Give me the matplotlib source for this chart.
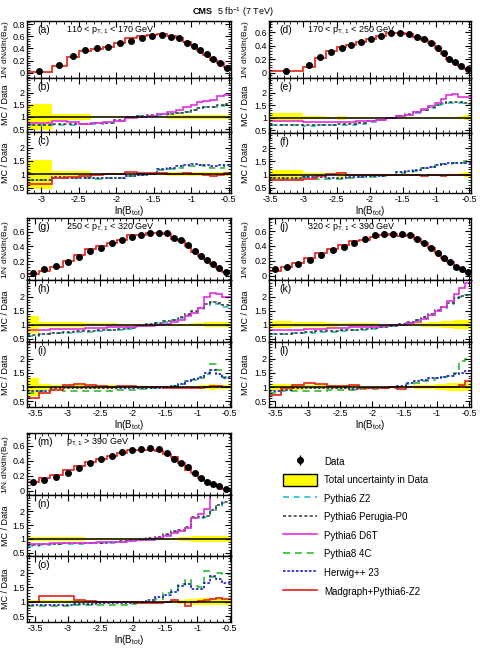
import numpy as np
import matplotlib
matplotlib.use("Agg")
import matplotlib.pyplot as plt
from matplotlib.ticker import MultipleLocator, FixedLocator, FuncFormatter
from matplotlib.lines import Line2D
from matplotlib.patches import Patch

plt.rcParams['font.family'] = ['Liberation Sans', 'DejaVu Sans']
plt.rcParams['axes.unicode_minus'] = False
plt.rcParams['mathtext.fontset'] = 'custom'
plt.rcParams['mathtext.rm'] = 'Liberation Sans'
plt.rcParams['mathtext.it'] = 'Liberation Sans:italic'

W, H = 481, 649

# ---------------- values ----------------
# 110 < pT,1 < 170 GeV
edges_a = [-3.19, -2.86, -2.66, -2.49, -2.34, -2.18, -2.03, -1.88, -1.73, -1.59, -1.46,
           -1.33, -1.21, -1.11, -1.01, -0.93, -0.84, -0.75, -0.66, -0.57, -0.47]
data_a = [0.02, 0.13, 0.28, 0.375, 0.40, 0.43, 0.485, 0.52, 0.58, 0.605, 0.615,
          0.59, 0.57, 0.485, 0.44, 0.375, 0.30, 0.225, 0.165, 0.08]
mg_a = [0.013, 0.11, 0.25, 0.35, 0.39, 0.43, 0.49, 0.57, 0.60, 0.63, 0.635,
        0.60, 0.575, 0.50, 0.45, 0.38, 0.29, 0.21, 0.16, 0.085]
band_a = [0.55, 0.12, 0.12, 0.12, 0.02, 0.02, 0.02, 0.02, 0.02, 0.02, 0.02,
          0.07, 0.07, 0.07, 0.07, 0.07, 0.07, 0.07, 0.07, 0.07]
z2_a = [0.65, 0.68, 0.68, 0.70, 0.72, 0.75, 0.85, 1.0, 1.02, 1.05, 1.08,
        1.12, 1.15, 1.2, 1.3, 1.35, 1.4, 1.4, 1.45, 1.5]
p0_a = [0.68, 0.70, 0.70, 0.72, 0.73, 0.77, 0.88, 1.0, 1.03, 1.06, 1.1,
        1.13, 1.17, 1.22, 1.3, 1.38, 1.42, 1.4, 1.48, 1.52]
d6t_a = [0.75, 0.82, 0.78, 0.72, 0.75, 0.78, 0.85, 0.95, 1.0, 1.05, 1.1,
         1.2, 1.3, 1.4, 1.5, 1.6, 1.65, 1.7, 1.85, 1.9]
p8_a = [0.78, 0.85, 0.85, 0.85, 0.82, 0.85, 0.85, 0.95, 0.97, 1.0, 1.15,
        1.2, 1.25, 1.3, 1.3, 1.35, 1.3, 1.25, 1.25, 1.3]
hw_a = [0.80, 0.88, 0.87, 0.85, 0.85, 0.85, 0.85, 0.95, 0.97, 1.0, 1.2,
        1.25, 1.3, 1.35, 1.4, 1.35, 1.35, 1.3, 1.35, 1.35]

# 170 < pT,1 < 250 GeV
edges_d = [-3.52, -3.01, -2.83, -2.66, -2.50, -2.35, -2.20, -2.05, -1.90, -1.75, -1.60,
           -1.47, -1.35, -1.23, -1.12, -1.02, -0.93, -0.84, -0.75, -0.66, -0.57, -0.47]
data_d = [0.025, 0.11, 0.23, 0.31, 0.36, 0.41, 0.46, 0.50, 0.545, 0.585, 0.595,
          0.575, 0.535, 0.505, 0.445, 0.37, 0.29, 0.20, 0.155, 0.105, 0.055]
mg_d = [0.02, 0.09, 0.22, 0.32, 0.38, 0.41, 0.46, 0.50, 0.545, 0.585, 0.595,
        0.575, 0.535, 0.48, 0.445, 0.36, 0.275, 0.20, 0.155, 0.105, 0.055]
band_d = [0.19, 0.05, 0.05, 0.03, 0.08, 0.03, 0.03, 0.03, 0.03, 0.03, 0.03,
          0.03, 0.03, 0.03, 0.03, 0.03, 0.03, 0.03, 0.04, 0.06, 0.1]
z2_d = [0.70, 0.68, 0.70, 0.70, 0.70, 0.72, 0.75, 0.82, 0.9, 1.0, 1.05,
        1.12, 1.2, 1.3, 1.4, 1.5, 1.55, 1.6, 1.6, 1.6, 1.55]
p0_d = [0.72, 0.70, 0.72, 0.72, 0.73, 0.75, 0.78, 0.85, 0.92, 1.0, 1.07,
        1.15, 1.22, 1.3, 1.42, 1.52, 1.58, 1.62, 1.65, 1.65, 1.58]
d6t_d = [0.85, 0.82, 0.82, 0.82, 0.82, 0.83, 0.85, 0.88, 0.92, 0.97, 1.05,
         1.12, 1.22, 1.35, 1.45, 1.6, 1.75, 1.9, 1.95, 1.85, 1.85]
p8_d = [0.85, 0.90, 0.85, 0.82, 0.85, 0.88, 0.9, 0.92, 0.95, 1.0, 1.05,
        1.1, 1.15, 1.25, 1.3, 1.35, 1.4, 1.4, 1.45, 1.45, 1.5]
hw_d = [0.88, 0.92, 0.90, 0.88, 0.88, 0.9, 0.92, 0.93, 0.95, 1.0, 1.08,
        1.12, 1.18, 1.25, 1.3, 1.35, 1.4, 1.45, 1.45, 1.45, 1.45]

# 250 < pT,1 < 320 GeV
edges_g = [-3.63, -3.45, -3.27, -3.08, -2.91, -2.74, -2.57, -2.40, -2.24, -2.09, -1.94, -1.79,
           -1.66, -1.53, -1.41, -1.30, -1.19, -1.09, -0.99, -0.89, -0.80, -0.71, -0.62, -0.48]
data_g = [0.03, 0.085, 0.13, 0.18, 0.26, 0.335, 0.385, 0.45, 0.485, 0.53, 0.56, 0.59,
          0.58, 0.58, 0.52, 0.485, 0.42, 0.335, 0.27, 0.215, 0.155, 0.10, 0.055]
mg_g = [0.018, 0.066, 0.117, 0.194, 0.286, 0.362, 0.404, 0.45, 0.495, 0.556, 0.56, 0.59,
        0.58, 0.568, 0.504, 0.47, 0.407, 0.325, 0.265, 0.215, 0.163, 0.105, 0.055]
band_g = [0.3, 0.1, 0.08, 0.08, 0.08, 0.06, 0.06, 0.06, 0.04, 0.04, 0.04, 0.03,
          0.03, 0.03, 0.03, 0.03, 0.04, 0.05, 0.06, 0.08, 0.1, 0.08, 0.08]
z2_g = [0.60, 0.65, 0.70, 0.72, 0.75, 0.75, 0.78, 0.8, 0.82, 0.85, 0.95, 1.0,
        1.05, 1.1, 1.15, 1.25, 1.35, 1.45, 1.55, 1.7, 1.8, 1.75, 1.65]
p0_g = [0.62, 0.67, 0.72, 0.74, 0.77, 0.78, 0.8, 0.82, 0.85, 0.88, 0.97, 1.02,
        1.07, 1.12, 1.18, 1.27, 1.38, 1.5, 1.6, 1.75, 1.82, 1.78, 1.7]
d6t_g = [0.80, 0.82, 0.84, 0.85, 0.86, 0.87, 0.88, 0.9, 0.9, 0.92, 0.95, 0.97,
         1.0, 1.02, 1.08, 1.18, 1.3, 1.42, 1.6, 2.0, 2.15, 2.1, 2.0]
p8_g = [0.80, 0.85, 0.90, 0.85, 0.85, 0.85, 0.85, 0.85, 0.88, 0.9, 0.92, 0.95,
        0.98, 1.0, 1.05, 1.1, 1.2, 1.25, 1.3, 1.45, 1.8, 1.6, 1.35]
hw_g = [0.85, 0.85, 0.95, 0.95, 0.95, 0.95, 0.95, 0.95, 0.95, 0.95, 0.95, 0.97,
        0.98, 1.0, 1.05, 1.12, 1.2, 1.28, 1.35, 1.5, 1.6, 1.45, 1.3]

# 320 < pT,1 < 390 GeV
edges_j = [-3.60, -3.41, -3.24, -3.06, -2.88, -2.70, -2.53, -2.36, -2.20, -2.04, -1.89, -1.74,
           -1.61, -1.48, -1.36, -1.25, -1.14, -1.03, -0.93, -0.84, -0.74, -0.65, -0.57, -0.47]
data_j = [0.085, 0.12, 0.155, 0.21, 0.28, 0.345, 0.39, 0.435, 0.49, 0.54, 0.56, 0.56,
          0.56, 0.54, 0.49, 0.435, 0.37, 0.30, 0.24, 0.18, 0.12, 0.085, 0.045]
mg_j = [0.06, 0.115, 0.165, 0.24, 0.31, 0.36, 0.41, 0.47, 0.475, 0.525, 0.55, 0.56,
        0.53, 0.54, 0.49, 0.435, 0.37, 0.30, 0.24, 0.18, 0.122, 0.09, 0.055]
band_j = [0.12, 0.12, 0.1, 0.08, 0.08, 0.07, 0.06, 0.06, 0.05, 0.05, 0.04, 0.04,
          0.04, 0.05, 0.06, 0.07, 0.08, 0.1, 0.12, 0.13, 0.15, 0.15, 0.15]
z2_j = [0.65, 0.65, 0.70, 0.72, 0.75, 0.75, 0.78, 0.8, 0.82, 0.85, 0.9, 0.95,
        1.0, 1.05, 1.15, 1.25, 1.35, 1.5, 1.6, 1.75, 1.95, 2.0, 2.05]
p0_j = [0.67, 0.67, 0.72, 0.74, 0.77, 0.78, 0.8, 0.82, 0.85, 0.88, 0.92, 0.97,
        1.02, 1.08, 1.18, 1.28, 1.38, 1.52, 1.62, 1.78, 1.97, 2.02, 2.05]
d6t_j = [0.80, 0.80, 0.82, 0.85, 0.85, 0.87, 0.88, 0.9, 0.9, 0.92, 0.95, 0.98,
         1.0, 1.05, 1.1, 1.2, 1.35, 1.5, 1.65, 1.85, 2.1, 2.3, 2.5]
p8_j = [0.80, 0.85, 0.85, 0.85, 0.87, 0.88, 0.9, 0.9, 0.92, 0.92, 0.95, 0.98,
        1.0, 1.1, 1.15, 1.2, 1.25, 1.3, 1.35, 1.4, 1.5, 1.9, 2.0]
hw_j = [0.85, 0.90, 0.95, 0.95, 0.95, 0.95, 0.95, 0.93, 0.95, 0.95, 0.97, 1.0,
        1.05, 1.15, 1.2, 1.25, 1.3, 1.3, 1.35, 1.4, 1.45, 1.5, 1.55]

# pT,1 > 390 GeV
edges_m = [-3.63, -3.45, -3.27, -3.08, -2.91, -2.74, -2.57, -2.40, -2.24, -2.09, -1.94, -1.79,
           -1.66, -1.53, -1.41, -1.30, -1.19, -1.09, -0.99, -0.89, -0.80, -0.71, -0.62, -0.48]
data_m = [0.115, 0.145, 0.18, 0.235, 0.31, 0.365, 0.42, 0.47, 0.51, 0.545, 0.555, 0.565,
          0.555, 0.50, 0.43, 0.375, 0.32, 0.235, 0.17, 0.125, 0.09, 0.06, 0.02]
mg_m = [0.115, 0.175, 0.215, 0.28, 0.33, 0.38, 0.42, 0.47, 0.50, 0.54, 0.54, 0.545,
        0.53, 0.49, 0.45, 0.37, 0.275, 0.235, 0.173, 0.131, 0.099, 0.067, 0.022]
band_m = [0.06, 0.06, 0.06, 0.06, 0.06, 0.05, 0.04, 0.03, 0.03, 0.03, 0.03, 0.03,
          0.03, 0.04, 0.05, 0.07, 0.08, 0.1, 0.12, 0.12, 0.12, 0.12, 0.1]
z2_m = [0.75, 0.78, 0.80, 0.82, 0.82, 0.85, 0.85, 0.87, 0.9, 0.92, 0.95, 1.0,
        1.05, 1.15, 1.25, 1.3, 1.4, 1.75, 1.75, 1.8, 2.0, 2.2, 2.3]
p0_m = [0.77, 0.80, 0.82, 0.84, 0.84, 0.87, 0.87, 0.9, 0.92, 0.95, 0.98, 1.02,
        1.08, 1.18, 1.28, 1.32, 1.45, 1.8, 1.8, 1.85, 2.05, 2.25, 2.35]
d6t_m = [0.80, 0.82, 0.85, 0.85, 0.85, 0.87, 0.88, 0.9, 0.9, 0.93, 0.95, 0.98,
         1.02, 1.1, 1.2, 1.3, 1.4, 1.75, 1.9, 2.1, 2.6, 2.6, 2.6]
p8_m = [0.85, 0.87, 0.85, 0.87, 0.88, 0.88, 0.9, 0.9, 0.9, 0.92, 0.95, 1.0,
        1.1, 1.3, 1.4, 1.6, 1.75, 1.55, 1.5, 2.05, 1.85, 2.0, 1.95]
hw_m = [0.90, 0.90, 0.90, 0.90, 0.92, 0.93, 0.95, 0.95, 0.95, 0.95, 0.98, 1.05,
        1.15, 1.25, 1.35, 1.55, 1.6, 1.45, 1.45, 1.65, 1.9, 1.8, 1.65]

data_err = 0.01

pt_labels = ['110 < p$_{\\mathrm{T,1}}$ < 170 GeV', '170 < p$_{\\mathrm{T,1}}$ < 250 GeV',
             '250 < p$_{\\mathrm{T,1}}$ < 320 GeV', '320 < p$_{\\mathrm{T,1}}$ < 390 GeV',
             'p$_{\\mathrm{T,1}}$ > 390 GeV']
letters = [('a', 'b', 'c'), ('d', 'e', 'f'), ('g', 'h', 'i'), ('j', 'k', 'l'), ('m', 'n', 'o')]

mc_names = ['Pythia6 Z2', 'Pythia6 Perugia-P0', 'Pythia6 D6T',
            'Pythia8 4C', 'Herwig++ 23', 'Madgraph+Pythia6-Z2']

regions = [
    dict(edges=edges_a, data=data_a, mg=mg_a, band=band_a, z2=z2_a, p0=p0_a, d6t=d6t_a, p8=p8_a, hw=hw_a),
    dict(edges=edges_d, data=data_d, mg=mg_d, band=band_d, z2=z2_d, p0=p0_d, d6t=d6t_d, p8=p8_d, hw=hw_d),
    dict(edges=edges_g, data=data_g, mg=mg_g, band=band_g, z2=z2_g, p0=p0_g, d6t=d6t_g, p8=p8_g, hw=hw_g),
    dict(edges=edges_j, data=data_j, mg=mg_j, band=band_j, z2=z2_j, p0=p0_j, d6t=d6t_j, p8=p8_j, hw=hw_j),
    dict(edges=edges_m, data=data_m, mg=mg_m, band=band_m, z2=z2_m, p0=p0_m, d6t=d6t_m, p8=p8_m, hw=hw_m),
]

# ---------------- layout (pixels) and styles ----------------
# x0, x1, top, split1, split2, bottom, x of the y titles
boxes = [(27, 231, 21, 78, 132, 193, 6), (269, 471, 21, 78, 133, 193, 246),
         (27, 231, 218, 280, 342, 407, 6), (269, 471, 218, 280, 342, 407, 246),
         (27, 231, 433, 495, 556, 622, 6)]
top_ylims = [(-0.09, 0.855), (-0.08, 0.77), (-0.06, 0.79), (-0.058, 0.775), (-0.053, 0.768)]

sty = {
    'z2':  dict(color='#22bbcc', lw=1.2, ls=(0, (3.6, 2.8))),
    'p0':  dict(color='#333322', lw=1.1, ls=(0, (2.0, 1.5))),
    'd6t': dict(color='#e030e0', lw=1.2, ls='-'),
    'p8':  dict(color='#33bb33', lw=1.2, ls=(0, (4.3, 2.8))),
    'hw':  dict(color='#1a1acc', lw=1.2, ls=(0, (1.5, 1.1))),
    'mg':  dict(color='#e8201a', lw=1.2, ls='-'),
}

fig = plt.figure(figsize=(W / 100, H / 100), dpi=100)


def px_axes(x0, y0, x1, y1):
    return fig.add_axes([x0 / W, 1 - y1 / H, (x1 - x0) / W, (y1 - y0) / H])


def root_style(ax, xlim, ylim):
    ax.set_xlim(xlim)
    ax.set_ylim(ylim)
    ax.xaxis.set_major_locator(MultipleLocator(0.5))
    ax.xaxis.set_minor_locator(MultipleLocator(0.1))
    ax.tick_params(which='both', direction='in', top=True, right=True,
                   labelsize=6.5, pad=1.5, labelbottom=False)
    ax.tick_params(which='major', length=4, width=0.8)
    ax.tick_params(which='minor', length=2, width=0.6)
    fmt = FuncFormatter(lambda v, p: '%g' % round(v, 3))
    ax.xaxis.set_major_formatter(fmt)
    ax.yaxis.set_major_formatter(fmt)
    for s in ax.spines.values():
        s.set_linewidth(1)


def letter(ax, txt, hpx):
    ax.text(0.05, 1 - 9 / hpx, '(%s)' % txt, transform=ax.transAxes,
            fontsize=7.5, va='center', ha='left')


data_handle = None
for i, reg in enumerate(regions):
    x0, x1, r0, r1, r2, r3, xt = boxes[i]
    edges = np.array(reg['edges'])
    centers = 0.5 * (edges[1:] + edges[:-1])
    data = np.array(reg['data'])
    mg = np.array(reg['mg'])
    band = np.array(reg['band'])
    xlim = (edges[0], edges[-1])
    lt = letters[i]

    # distribution
    ax = px_axes(x0, r0, x1, r1)
    root_style(ax, xlim, top_ylims[i])
    ax.yaxis.set_major_locator(MultipleLocator(0.2))
    ax.yaxis.set_minor_locator(MultipleLocator(0.04))
    ax.stairs(mg, edges, baseline=None, **sty['mg'])
    eb = ax.errorbar(centers, data, yerr=data_err, fmt='o', color='k', ms=4,
                     elinewidth=1, capsize=0, zorder=5)
    if data_handle is None:
        data_handle = eb
    letter(ax, lt[0], r1 - r0)
    ax.text(0.19, 1 - 9 / (r1 - r0), pt_labels[i], transform=ax.transAxes,
            fontsize=6.5, va='center', ha='left')
    fig.text(xt / W, 1 - (r0 + r1) / 2 / H, '1/N dN/dln(B$_{\\mathrm{tot}}$)',
             rotation=90, ha='center', va='center', fontsize=6)

    # ratio panels
    for k, (ya, yb, keys) in enumerate([(r1, r2, ['z2', 'p0', 'd6t']),
                                        (r2, r3, ['p8', 'hw', 'mg'])]):
        ax = px_axes(x0, ya, x1, yb)
        root_style(ax, xlim, (0.38, 2.6) if k == 0 else (0.3, 2.58))
        ax.yaxis.set_major_locator(FixedLocator([0.5, 1, 1.5, 2]))
        ax.yaxis.set_minor_locator(MultipleLocator(0.1))
        ax.stairs(1 + band, edges, baseline=1 - band, fill=True, color='#ffff00', lw=0)
        ax.axhline(1, color='k', lw=1.1)
        for key in keys:
            vals = mg / data if key == 'mg' else np.array(reg[key])
            ax.stairs(vals, edges, baseline=None, **sty[key])
        letter(ax, lt[k + 1], yb - ya)
        fig.text(xt / W, 1 - (ya + yb) / 2 / H, 'MC / Data',
                 rotation=90, ha='center', va='center', fontsize=6.5)
        if k == 1:
            ax.tick_params(labelbottom=True)
            ax.set_xlabel('ln(B$_{\\mathrm{tot}}$)', fontsize=7, labelpad=0)

fig.text(213 / W, 1 - 11.7 / H, 'CMS', fontweight='bold', fontsize=6.5,
         ha='right', va='center')
fig.text(217 / W, 1 - 11.7 / H, '5 fb$^{-1}$ (7 TeV)', fontsize=6.5,
         ha='left', va='center')

handles = [data_handle,
           Patch(facecolor='#ffff00', edgecolor='k', lw=1)] + \
          [Line2D([], [], **sty[k]) for k in ['z2', 'p0', 'd6t', 'p8', 'hw', 'mg']]
labels = ['Data', 'Total uncertainty in Data'] + mc_names
fig.legend(handles, labels, loc='upper left', bbox_to_anchor=(283 / W, 1 - 455.4 / H),
           frameon=False, fontsize=7, handlelength=3.5, handleheight=1.5,
           labelspacing=0.69, handletextpad=0.7, borderpad=0, borderaxespad=0)

fig.savefig('out.png', dpi=100)
